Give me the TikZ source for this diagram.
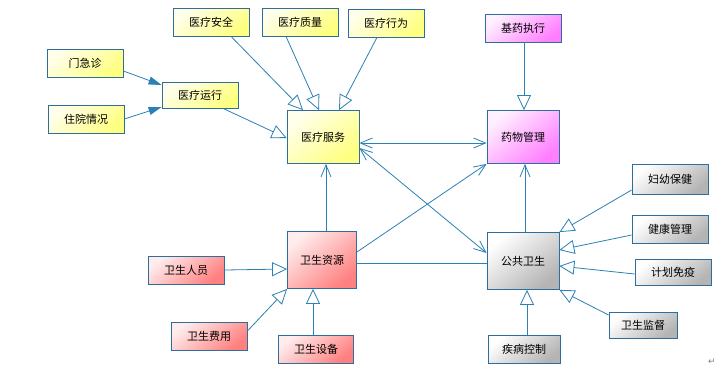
\documentclass[tikz,border=0pt]{standalone}
\usepackage{fontspec}
\newfontfamily\cjk{Noto Sans CJK SC}
\newfontfamily\djv{DejaVu Sans}
\usetikzlibrary{arrows.meta,calc}
\definecolor{bd}{HTML}{2E6E9E}
\definecolor{ln}{HTML}{2B80B4}
\definecolor{yl}{HTML}{FFFF80}
\definecolor{pk}{HTML}{FF7FFF}
\definecolor{rd}{HTML}{FF8080}
\definecolor{gy}{HTML}{B4B4B4}
\tikzset{
  box/.style={draw=bd,line width=0.8pt,inner sep=0pt,font=\cjk\fontsize{11}{13}\selectfont,
    minimum width=76pt,minimum height=28pt},
  bigbox/.style={box,minimum width=72pt,minimum height=54pt},
  yel/.style={top color=white!85!yl,bottom color=yl,shading angle=40},
  pnk/.style={top color=white!88!pk,bottom color=pk,shading angle=40},
  red/.style={top color=white!85!rd,bottom color=rd,shading angle=40},
  gry/.style={top color=white,bottom color=gy,shading angle=40},
  conn/.style={draw=ln,line width=0.8pt},
  gen/.style={conn,-{Triangle[open,length=15pt,width=14pt,fill=white]}},
  filled/.style={conn,-{Triangle[length=13pt,width=8pt]}},
  nav/.style={conn,-{Straight Barb[length=12pt,width=10pt]}},
  bnav/.style={conn,{Straight Barb[length=12pt,width=10pt]}-{Straight Barb[length=12pt,width=10pt]}},
}
\begin{document}
\begin{tikzpicture}[x=1pt,y=-1pt]
\useasboundingbox (0,0) rectangle (721,376);
% nodes
\node[box,yel] (ylaq) at (211,22) {医疗安全};
\node[box,yel] (ylzl) at (300,22) {医疗质量};
\node[box,yel] (ylxw) at (386,23) {医疗行为};
\node[box,yel] (mjz) at (85,63) {门急诊};
\node[box,yel] (zyqk) at (86,119) {住院情况};
\node[box,yel,minimum height=26pt] (ylyx) at (200,95) {医疗运行};
\node[bigbox,yel,minimum height=53pt] (ylfw) at (323,137) {医疗服务};
\node[box,pnk] (jyzx) at (523,28) {基药执行};
\node[bigbox,pnk,minimum height=53pt] (ywgl) at (523,137) {药物管理};
\node[box,gry,minimum height=30pt] (fybj) at (670,179) {妇幼保健};
\node[box,gry] (jkgl) at (670,229) {健康管理};
\node[box,gry,minimum height=26pt] (jhmy) at (673,272) {计划免疫};
\node[box,gry,minimum width=68pt,minimum height=26pt] (wsjd) at (643,325) {卫生监督};
\node[box,gry,minimum width=72pt] (jbkz) at (524,349) {疾病控制};
\node[bigbox,gry,minimum height=57pt] (ggws) at (523,261) {公共卫生};
\node[bigbox,red,minimum width=69pt,minimum height=57pt] (wszy) at (322,260) {卫生资源};
\node[box,red] (wsry) at (186,270) {卫生人员};
\node[box,red] (wsfy) at (209,336) {卫生费用};
\node[box,red,minimum width=75pt] (wssb) at (316,349) {卫生设备};
\node[font=\djv\fontsize{9}{10}\selectfont,text=gray,inner sep=0pt] (pm) at (712,362) {↵};
% connectors
\draw[filled] ($(mjz.east)+(0,8)$) -- ($(ylyx.west)+(0,-10)$);
\draw[filled] (zyqk.east) -- ($(ylyx.west)+(0,12)$);
\draw[gen] ($(ylyx.south)+(23,0)$) -- ($(ylfw.west)+(0,1)$);
\draw[gen] ($(ylaq.south)+(20,0)$) -- ($(ylfw.north)+(-20,0)$);
\draw[gen] ($(ylzl.south)+(-14,0)$) -- ($(ylfw.north)+(-4,0)$);
\draw[gen] ($(ylxw.south)+(-9,0)$) -- ($(ylfw.north)+(16,0)$);
\draw[gen] ($(jyzx.south)+(1,0)$) -- ($(ywgl.north)+(1,0)$);
\draw[bnav] ($(ylfw.east)+(0,6)$) -- ($(ywgl.west)+(0,6)$);
\draw[bnav] ($(ylfw.east)+(0,11)$) -- ($(ggws.west)+(0,-8)$);
\draw[nav] ($(wszy.east)+(0,-8)$) -- (ywgl.south west);
\draw[conn] ($(wszy.east)+(0,3)$) -- ($(ggws.west)+(0,2)$);
\draw[nav] ($(wszy.north)+(4,0)$) -- ($(ylfw.south)+(3,0)$);
\draw[nav] ($(ggws.north)+(2,0)$) -- ($(ywgl.south)+(2,0)$);
\draw[gen] (wsry.east) -- ($(wszy.west)+(0,9)$);
\draw[gen] ($(wsfy.east)+(0,-5)$) -- (wszy.south west);
\draw[gen] ($(wssb.north)+(-3,0)$) -- ($(wszy.south)+(-9,0)$);
\draw[gen] ($(fybj.west)+(0,11)$) -- (ggws.north east);
\draw[gen] ($(jkgl.west)+(0,6)$) -- ($(ggws.east)+(0,-11)$);
\draw[gen] ($(jhmy.west)+(0,2)$) -- ($(ggws.east)+(0,5)$);
\draw[gen] ($(wsjd.west)+(0,-10)$) -- (ggws.south east);
\draw[gen] ($(jbkz.north)+(3,0)$) -- ($(ggws.south)+(4,0)$);
\end{tikzpicture}
\end{document}
